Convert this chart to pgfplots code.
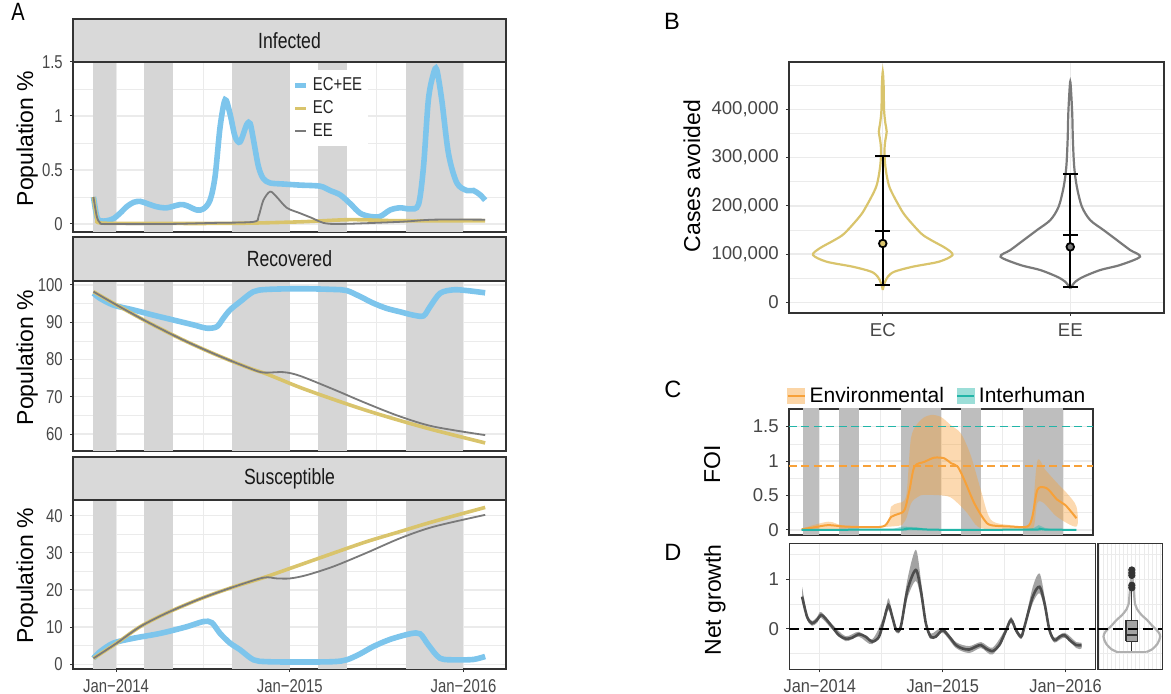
\documentclass[border=0pt]{standalone}
\usepackage{fontspec}
\setmainfont{Liberation Sans}
\newfontfamily\afont[FakeStretch=0.8]{Liberation Sans}
\newfontfamily\dfont[FakeStretch=0.88]{Liberation Sans}
\usepackage{pgfplots}
\pgfplotsset{compat=1.18}

\definecolor{cblue}{HTML}{7DC5EC}
\definecolor{cgold}{HTML}{D9C46C}
\definecolor{cgrey}{HTML}{7A7A7A}
\definecolor{band}{HTML}{D6D6D6}
\definecolor{bandC}{HTML}{BEBEBE}
\definecolor{strip}{HTML}{D9D9D9}
\definecolor{frame}{HTML}{333333}
\definecolor{gridc}{HTML}{EBEBEB}
\definecolor{corange}{HTML}{F7A139}
\definecolor{cteal}{HTML}{22B5A8}
\definecolor{dline}{HTML}{4D4D4D}
\definecolor{dband}{HTML}{A3A3A3}
\definecolor{vgrey}{HTML}{B0B0B0}

\newcommand\tA{\afont\fontsize{9.3}{11}\selectfont}
\newcommand\tN{\fontsize{9.3}{11}\selectfont}
\newcommand\tD{\dfont\fontsize{9.3}{11}\selectfont}
\newcommand\ttl{\fontsize{11.5}{13}\selectfont}
\newcommand\strp{\afont\fontsize{11}{13}\selectfont}
\newcommand\lgfont{\fontsize{10.5}{12}\selectfont}

% wet seasons, drawn behind the lines
\newcommand\bands[3]{%
\addplot[fill=#1, draw=none, forget plot] coordinates {(2013.867,#2) (2013.867,#3) (2014.0,#3) (2014.0,#2)};
\addplot[fill=#1, draw=none, forget plot] coordinates {(2014.163,#2) (2014.163,#3) (2014.33,#3) (2014.33,#2)};
\addplot[fill=#1, draw=none, forget plot] coordinates {(2014.667,#2) (2014.667,#3) (2015.0,#3) (2015.0,#2)};
\addplot[fill=#1, draw=none, forget plot] coordinates {(2015.165,#2) (2015.165,#3) (2015.328,#3) (2015.328,#2)};
\addplot[fill=#1, draw=none, forget plot] coordinates {(2015.667,#2) (2015.667,#3) (2016.0,#3) (2016.0,#2)};
}

\pgfplotsset{
  base/.style={
    scale only axis, anchor=south west,
    axis line style={frame, line width=0.7pt},
    tick align=outside, tick pos=left, major tick length=1.6pt, minor tick length=0pt,
    tick style={frame, line width=0.5pt},
    grid=both,
    major grid style={gridc, line width=0.7pt},
    minor grid style={gridc, line width=0.35pt},
    /pgf/number format/assume math mode=true,
    tick label style={text=black!72},
    scaled ticks=false,
  },
  dates/.style={xmin=2013.752, xmax=2016.245,
    xtick={2014,2015,2016}, minor xtick={2014.5,2015.5}},
}

\begin{document}
\begin{tikzpicture}
\path[use as bounding box] (0,0) rectangle (585.5pt,347pt);

% ---------------- A: Infected
\begin{axis}[base, dates, at={(36.5pt,231pt)}, width=216.5pt, height=85pt,
  ymin=-0.074, ymax=1.5,
  xticklabels={}, xtick style={draw=none},
  ytick={0,0.5,1,1.5}, yticklabels={0,0.5,1,1.5}, minor ytick={0.25,0.75,1.25},
  yticklabel style={font=\tA},
  ylabel={Population \%}, ylabel style={at={(axis description cs:-0.106,0.55)}, anchor=center, font=\ttl},
  legend style={at={(axis description cs:0.501,0.953)}, anchor=north west, fill=white, draw=none,
    font=\tA, text=black!85, inner xsep=1pt, inner ysep=1.5pt, row sep=-0.5pt},
  legend cell align=left,
  legend image code/.code={\draw[#1] (0pt,0pt) -- (5.5pt,0pt);},
]
\bands{band}{-1}{2}
\addplot[cblue, line width=2.8pt, smooth] coordinates {
(2013.870,0.25) (2013.889,0.07) (2013.908,0.03) (2013.946,0.03) (2013.985,0.05) (2014.023,0.10)
(2014.061,0.16) (2014.100,0.20) (2014.138,0.21) (2014.177,0.19) (2014.234,0.16) (2014.292,0.15)
(2014.369,0.18) (2014.407,0.17) (2014.464,0.13) (2014.503,0.14) (2014.541,0.22) (2014.570,0.44)
(2014.599,0.90) (2014.628,1.15) (2014.656,1.02) (2014.685,0.81) (2014.714,0.76) (2014.752,0.92)
(2014.772,0.93) (2014.791,0.78) (2014.820,0.53) (2014.848,0.42) (2014.887,0.38) (2014.964,0.37)
(2015.059,0.36) (2015.175,0.35) (2015.232,0.31) (2015.290,0.27) (2015.347,0.19) (2015.405,0.10)
(2015.463,0.07) (2015.520,0.07) (2015.578,0.13) (2015.635,0.15) (2015.693,0.14) (2015.741,0.18)
(2015.770,0.53) (2015.798,1.15) (2015.827,1.39) (2015.846,1.43) (2015.875,1.15) (2015.914,0.65)
(2015.962,0.38) (2016.019,0.31) (2016.058,0.31) (2016.096,0.27) (2016.125,0.22)};
\addlegendentry{EC+EE}
\addplot[cgold, line width=1.8pt, smooth] coordinates {
(2013.870,0.25) (2013.889,0.05) (2013.908,0.01) (2014.100,0.006) (2014.676,0.006)
(2015.059,0.02) (2015.347,0.04) (2015.635,0.03) (2016.125,0.03)};
\addlegendentry{EC}
\addplot[cgrey, line width=0.9pt, smooth] coordinates {
(2013.870,0.25) (2013.889,0.07) (2013.908,0.01) (2013.946,0) (2014.292,0) (2014.561,0.01)
(2014.791,0.02) (2014.820,0.07) (2014.848,0.22) (2014.887,0.30) (2014.925,0.25) (2014.983,0.15)
(2015.059,0.10) (2015.136,0.05) (2015.194,0.01) (2015.290,0) (2015.635,0.02) (2015.827,0.04)
(2016.125,0.04)};
\addlegendentry{EE}
\end{axis}

% ---------------- A: Recovered
\begin{axis}[base, dates, at={(36.5pt,121.5pt)}, width=216.5pt, height=85pt,
  ymin=55.44, ymax=101.07,
  xticklabels={}, xtick style={draw=none},
  ytick={60,70,80,90,100}, yticklabels={60,70,80,90,100}, minor ytick={65,75,85,95},
  yticklabel style={font=\tA},
  ylabel={Population \%}, ylabel style={at={(axis description cs:-0.106,0.55)}, anchor=center, font=\ttl},
]
\bands{band}{50}{110}
\addplot[cblue, line width=2.8pt, smooth] coordinates {
(2013.870,97.8) (2013.908,96.4) (2013.985,94.6) (2014.100,93.3) (2014.215,91.9) (2014.330,90.6)
(2014.445,89.3) (2014.522,88.4) (2014.580,88.8) (2014.618,91.1) (2014.656,93.3) (2014.714,95.5)
(2014.791,98.2) (2014.868,98.8) (2015.059,99.0) (2015.251,98.8) (2015.328,98.5) (2015.405,96.9)
(2015.482,95.1) (2015.559,93.7) (2015.635,92.8) (2015.712,91.9) (2015.770,91.7) (2015.808,94.2)
(2015.866,97.8) (2015.942,98.7) (2016.019,98.5) (2016.125,97.9)};
\addplot[cgold, line width=1.8pt, smooth] coordinates {
(2013.870,98.2) (2014.004,94.6) (2014.196,89.7) (2014.388,85.2) (2014.580,81.2) (2014.772,77.6)
(2014.868,76.1) (2015.059,72.5) (2015.251,69.3) (2015.443,66.3) (2015.635,63.6) (2015.827,61.1)
(2016.125,57.6)};
\addplot[cgrey, line width=0.9pt, smooth] coordinates {
(2013.870,98.2) (2014.004,94.6) (2014.196,89.7) (2014.388,85.2) (2014.580,81.2) (2014.772,77.6)
(2014.848,76.5) (2014.964,76.6) (2015.059,75.6) (2015.251,72.0) (2015.443,68.2) (2015.635,64.7)
(2015.827,62.0) (2016.125,59.7)};
\end{axis}

% ---------------- A: Susceptible
\begin{axis}[base, dates, at={(36.5pt,12.5pt)}, width=216.5pt, height=84.5pt,
  ymin=-1.27, ymax=44.2,
  xticklabels={Jan−2014,Jan−2015,Jan−2016}, xticklabel style={font=\tA},
  ytick={0,10,20,30,40}, yticklabels={0,10,20,30,40}, minor ytick={5,15,25,35},
  yticklabel style={font=\tA},
  ylabel={Population \%}, ylabel style={at={(axis description cs:-0.106,0.55)}, anchor=center, font=\ttl},
]
\bands{band}{-5}{50}
\addplot[cblue, line width=2.8pt, smooth] coordinates {
(2013.870,1.6) (2013.908,3.4) (2013.985,5.7) (2014.100,7.0) (2014.253,8.3) (2014.407,10.1)
(2014.503,11.5) (2014.551,11.2) (2014.599,8.3) (2014.656,5.7) (2014.714,3.9) (2014.791,1.2)
(2014.868,0.7) (2015.059,0.6) (2015.251,0.7) (2015.328,1.2) (2015.405,2.8) (2015.482,4.8)
(2015.578,6.7) (2015.693,8.2) (2015.750,8.2) (2015.798,5.2) (2015.866,1.6) (2015.962,1.2)
(2016.058,1.3) (2016.125,2.1)};
\addplot[cgold, line width=1.8pt, smooth] coordinates {
(2013.870,1.6) (2014.004,5.7) (2014.138,10.1) (2014.292,13.8) (2014.484,17.6) (2014.676,20.8)
(2014.848,23.3) (2015.002,25.8) (2015.251,29.9) (2015.443,33.0) (2015.635,35.7) (2015.827,38.4)
(2016.125,42.2)};
\addplot[cgrey, line width=0.9pt, smooth] coordinates {
(2013.870,1.6) (2014.004,5.7) (2014.138,10.1) (2014.292,13.8) (2014.484,17.6) (2014.676,20.8)
(2014.848,23.3) (2014.925,23.1) (2015.002,23.1) (2015.098,24.0) (2015.251,26.3) (2015.443,30.0)
(2015.635,33.9) (2015.827,37.0) (2016.125,40.2)};
\end{axis}

% facet strips
\draw[frame, line width=0.7pt, fill=strip] (36.5pt,337.5pt) rectangle (253pt,316pt);
\node[font=\strp, text=black!90] at (144.75pt,326.75pt) {Infected};
\draw[frame, line width=0.7pt, fill=strip] (36.5pt,228.5pt) rectangle (253pt,206.5pt);
\node[font=\strp, text=black!90] at (144.75pt,217.5pt) {Recovered};
\draw[frame, line width=0.7pt, fill=strip] (36.5pt,118.5pt) rectangle (253pt,97pt);
\node[font=\strp, text=black!90] at (144.75pt,107.75pt) {Susceptible};

% ---------------- B: violins
\begin{axis}[base, at={(394.5pt,190.5pt)}, width=187.5pt, height=125.5pt,
  xmin=0.5, xmax=2.5, ymin=-22000, ymax=498000,
  xtick={1,2}, xticklabels={EC,EE}, xticklabel style={font=\tN},
  ytick={0,100000,200000,300000,400000},
  yticklabels={0,{100,000},{200,000},{300,000},{400,000}},
  minor ytick={50000,150000,250000,350000,450000},
  yticklabel style={font=\tN},
  ylabel={Cases avoided}, ylabel style={at={(axis description cs:-0.259,0.546)}, anchor=center, font=\ttl},
]
\addplot[cgold, line width=1.1pt, smooth] coordinates {
(1,25600) (1.009,39400) (1.027,53200) (1.062,63600) (1.16,73900) (1.30,84300) (1.372,98100)
(1.337,111900) (1.257,129200) (1.204,143000) (1.124,177500) (1.089,198300) (1.035,239700)
(1.014,281200) (1.009,315700) (1.014,336400) (1.021,353700) (1.014,371000) (1.007,398600)
(1.005,447000) (1,478000)
(0.995,447000) (0.993,398600) (0.986,371000) (0.979,353700) (0.986,336400) (0.991,315700)
(0.986,281200) (0.965,239700) (0.911,198300) (0.876,177500) (0.796,143000) (0.743,129200)
(0.663,111900) (0.628,98100) (0.70,84300) (0.84,73900) (0.938,63600) (0.973,53200)
(0.991,39400) (1,25600)};
\addplot[cgrey, line width=1.1pt, smooth] coordinates {
(2,29000) (2.027,42800) (2.071,53200) (2.16,67000) (2.266,77400) (2.372,94600) (2.319,108500)
(2.248,129200) (2.177,149900) (2.106,170600) (2.062,198300) (2.035,239700) (2.021,281200)
(2.014,336400) (2.011,384800) (2.007,419300) (2,457300)
(1.993,419300) (1.989,384800) (1.986,336400) (1.979,281200) (1.965,239700) (1.938,198300)
(1.894,170600) (1.823,149900) (1.752,129200) (1.681,108500) (1.628,94600) (1.734,77400)
(1.84,67000) (1.929,53200) (1.973,42800) (2,29000)};
% intervals
\addplot[black, line width=1pt] coordinates {(1,36000) (1,303000)};
\addplot[black, line width=1pt] coordinates {(0.96,36000) (1.04,36000)};
\addplot[black, line width=1pt] coordinates {(0.96,148000) (1.04,148000)};
\addplot[black, line width=1pt] coordinates {(0.96,303000) (1.04,303000)};
\addplot[black, line width=1pt] coordinates {(2,31000) (2,265000)};
\addplot[black, line width=1pt] coordinates {(1.96,31000) (2.04,31000)};
\addplot[black, line width=1pt] coordinates {(1.96,140000) (2.04,140000)};
\addplot[black, line width=1pt] coordinates {(1.96,265000) (2.04,265000)};
\addplot[only marks, mark=*, mark size=1.9pt, mark options={fill=cgold, draw=black, line width=0.9pt}] coordinates {(1,122000)};
\addplot[only marks, mark=*, mark size=1.9pt, mark options={fill=cgrey, draw=black, line width=0.9pt}] coordinates {(2,115000)};
\end{axis}

% ---------------- C: force of infection
\begin{axis}[base, dates, at={(394.5pt,79.5pt)}, width=152pt, height=63pt,
  ymin=-0.073, ymax=1.757,
  xticklabels={}, xtick style={draw=none},
  ytick={0,0.5,1,1.5}, yticklabels={0,0.5,1,1.5}, minor ytick={0.25,0.75,1.25},
  yticklabel style={font=\tN},
  ylabel={FOI}, ylabel style={at={(axis description cs:-0.253,0.56)}, anchor=center, font=\ttl},
  legend columns=2,
  legend style={at={(axis description cs:0.49,1.103)}, anchor=center, draw=none, fill=none,
    font=\lgfont, /tikz/every even column/.append style={column sep=4pt}, inner sep=0pt},
]
\bands{bandC}{-1}{2}
\addplot[fill=corange, fill opacity=0.4, draw=none, smooth, forget plot] coordinates {
(2013.856,0.02) (2014.073,0.12) (2014.21,0.06) (2014.536,0.06) (2014.59,0.34) (2014.645,0.39)
(2014.713,0.50) (2014.754,1.35) (2014.835,1.60) (2014.917,1.67) (2014.999,1.64) (2015.080,1.52)
(2015.162,1.40) (2015.243,1.08) (2015.325,0.58) (2015.407,0.15) (2015.57,0.07) (2015.706,0.06)
(2015.747,0.2) (2015.788,1.0) (2015.855,0.87) (2015.951,0.68) (2016.033,0.53) (2016.109,0.34)
(2016.109,0.05) (2015.951,0.19) (2015.842,0.39) (2015.788,0.39) (2015.76,0.05) (2015.706,0.01)
(2015.407,0.01) (2015.298,0.05) (2015.216,0.24) (2015.135,0.39) (2015.053,0.49) (2014.863,0.51)
(2014.808,0.48) (2014.754,0.39) (2014.699,0.12) (2014.59,0.05) (2013.856,0.0)};
\addplot[fill=cteal, fill opacity=0.4, draw=none, forget plot] coordinates {
(2013.856,0.012) (2014.6,0.012) (2014.68,0.05) (2014.8,0.04) (2014.9,0.012) (2015.7,0.012)
(2015.76,0.03) (2015.8,0.07) (2015.85,0.03) (2015.9,0.012) (2016.109,0.012)
(2016.109,-0.005) (2013.856,-0.005)};
\addplot[corange, line width=1pt, smooth, forget plot] coordinates {
(2013.856,0.01) (2013.965,0.04) (2014.073,0.07) (2014.21,0.05) (2014.427,0.04) (2014.536,0.06)
(2014.59,0.19) (2014.645,0.23) (2014.699,0.29) (2014.74,0.58) (2014.781,0.92) (2014.863,0.99)
(2014.944,1.05) (2015.026,1.04) (2015.080,0.97) (2015.135,0.92) (2015.189,0.73) (2015.271,0.39)
(2015.352,0.15) (2015.407,0.07) (2015.57,0.05) (2015.706,0.05) (2015.747,0.19) (2015.788,0.58)
(2015.842,0.62) (2015.883,0.58) (2015.951,0.44) (2016.019,0.36) (2016.109,0.17)};
\addplot[cteal, line width=1pt, smooth, forget plot] coordinates {
(2013.856,0.003) (2014.65,0.005) (2014.72,0.02) (2014.85,0.01) (2015.0,0.003) (2015.76,0.005)
(2015.8,0.02) (2015.86,0.005) (2016.109,0.003)};
\addplot[cteal, line width=0.8pt, dash pattern=on 4pt off 2.2pt, forget plot] coordinates {(2013.752,1.5) (2016.245,1.5)};
\addplot[corange, line width=0.9pt, dash pattern=on 4pt off 2.2pt, forget plot] coordinates {(2013.752,0.93) (2016.245,0.93)};
\addlegendimage{legend image code/.code={\fill[corange!45] (0pt,-3.8pt) rectangle (8.5pt,3.8pt); \draw[corange, line width=1pt] (0pt,0pt) -- (8.5pt,0pt);}}
\addlegendentry{Environmental}
\addlegendimage{legend image code/.code={\fill[cteal!45] (0pt,-3.8pt) rectangle (8.5pt,3.8pt); \draw[cteal, line width=1pt] (0pt,0pt) -- (8.5pt,0pt);}}
\addlegendentry{Interhuman}
\end{axis}

% ---------------- D: net growth
\begin{axis}[base, dates, at={(394.65pt,12.35pt)}, width=153.2pt, height=63pt,
  ymin=-0.82, ymax=1.73,
  xticklabels={Jan−2014,Jan−2015,Jan−2016}, xticklabel style={font=\tD},
  ytick={0,1}, yticklabels={0,1}, minor ytick={-0.5,0.5,1.5},
  yticklabel style={font=\tN},
  ylabel={Net growth}, ylabel style={at={(axis description cs:-0.243,0.55)}, anchor=center, font=\ttl},
]
\addplot[fill=dband, draw=none, smooth] coordinates {
(2013.856,0.85) (2013.897,0.30) (2013.937,0.16) (2013.978,0.24) (2014.011,0.34) (2014.101,0.09)
(2014.21,-0.15) (2014.318,-0.06) (2014.427,-0.21) (2014.522,0.26) (2014.558,0.62) (2014.590,0.32)
(2014.623,0.02) (2014.659,0.12) (2014.713,1.0) (2014.781,1.6) (2014.822,1.0) (2014.863,0.17)
(2014.903,-0.10) (2014.999,0.02) (2015.108,-0.27) (2015.216,-0.35) (2015.312,-0.27) (2015.407,-0.38)
(2015.516,0.02) (2015.556,0.24) (2015.597,0.02) (2015.638,-0.11) (2015.665,0.09) (2015.733,0.85)
(2015.788,1.12) (2015.829,0.65) (2015.869,0.02) (2015.910,-0.18) (2015.992,-0.08) (2016.087,-0.27)
(2016.128,-0.28)
(2016.128,-0.40) (2016.087,-0.39) (2015.992,-0.18) (2015.910,-0.28) (2015.869,-0.08) (2015.829,0.40)
(2015.788,0.72) (2015.733,0.52) (2015.665,-0.01) (2015.638,-0.21) (2015.597,-0.08) (2015.556,0.12)
(2015.516,-0.08) (2015.407,-0.52) (2015.312,-0.39) (2015.216,-0.49) (2015.108,-0.39) (2014.999,-0.08)
(2014.903,-0.21) (2014.863,0.06) (2014.822,0.62) (2014.781,0.97) (2014.713,0.62) (2014.659,-0.02)
(2014.623,-0.08) (2014.590,0.17) (2014.558,0.38) (2014.522,0.12) (2014.427,-0.31) (2014.318,-0.16)
(2014.21,-0.25) (2014.101,-0.01) (2014.011,0.22) (2013.978,0.12) (2013.937,0.06) (2013.897,0.18)
(2013.856,0.55)};
\addplot[dline, line width=1.3pt, smooth] coordinates {
(2013.856,0.65) (2013.897,0.24) (2013.937,0.11) (2013.978,0.18) (2014.011,0.28) (2014.046,0.21)
(2014.101,0.04) (2014.155,-0.13) (2014.210,-0.20) (2014.264,-0.18) (2014.318,-0.11) (2014.373,-0.16)
(2014.427,-0.26) (2014.482,-0.16) (2014.522,0.18) (2014.558,0.48) (2014.590,0.24) (2014.623,-0.03)
(2014.659,0.04) (2014.713,0.78) (2014.781,1.19) (2014.822,0.78) (2014.863,0.11) (2014.903,-0.16)
(2014.944,-0.16) (2014.999,-0.03) (2015.053,-0.16) (2015.108,-0.33) (2015.162,-0.40) (2015.216,-0.42)
(2015.271,-0.36) (2015.312,-0.33) (2015.352,-0.40) (2015.407,-0.45) (2015.461,-0.33) (2015.516,-0.03)
(2015.556,0.18) (2015.597,-0.03) (2015.638,-0.16) (2015.665,0.04) (2015.733,0.65) (2015.788,0.85)
(2015.829,0.51) (2015.869,-0.03) (2015.910,-0.23) (2015.951,-0.16) (2015.992,-0.13) (2016.033,-0.23)
(2016.087,-0.33) (2016.128,-0.33)};
\addplot[black, line width=1pt, dash pattern=on 5pt off 2.5pt] coordinates {(2013.752,0) (2016.245,0)};
\end{axis}

% ---------------- D: distribution of net growth
\begin{axis}[base, at={(549pt,12.35pt)}, width=32.2pt, height=63pt,
  xmin=-1.05, xmax=0.95, ymin=-0.82, ymax=1.73,
  xtick={-1,-0.875,...,0.9}, xticklabels={}, xtick style={draw=none},
  ytick={0,1}, yticklabels={}, minor ytick={-0.5,0.5,1.5}, ytick style={draw=none},
  major grid style={gridc, line width=0.4pt},
]
\addplot[vgrey, line width=1.1pt, smooth] coordinates {
(0,1.2) (0.04,0.9) (0.07,0.7) (0.1,0.5) (0.16,0.4) (0.3,0.28) (0.47,0.18) (0.65,0.05) (0.82,-0.06)
(0.88,-0.16) (0.8,-0.3) (0.62,-0.42) (0.45,-0.47)};
\addplot[vgrey, line width=1.1pt, smooth] coordinates {
(0,1.2) (-0.04,0.9) (-0.07,0.7) (-0.1,0.5) (-0.16,0.4) (-0.3,0.28) (-0.47,0.18) (-0.65,0.05) (-0.82,-0.06)
(-0.88,-0.16) (-0.8,-0.3) (-0.62,-0.42) (-0.45,-0.47)};
\addplot[vgrey, line width=1.1pt] coordinates {(-0.45,-0.47) (0.45,-0.47)};
\addplot[frame, line width=0.6pt] coordinates {(0,-0.45) (0,0.78)};
\addplot[fill=dband, draw=frame, line width=0.6pt] coordinates {(-0.18,-0.25) (-0.18,0.17) (0.18,0.17) (0.18,-0.25) (-0.18,-0.25)};
\addplot[frame, line width=0.9pt] coordinates {(-0.18,-0.12) (0.18,-0.12)};
\addplot[only marks, mark=*, mark size=1.6pt, color=frame] coordinates {(0,0.83) (0,0.88) (0,1.08) (0,1.13) (0,1.19)};
\addplot[black, line width=1pt, dash pattern=on 5pt off 2.5pt] coordinates {(-1.05,0) (0.95,0)};
\end{axis}

% panel letters
\node[font=\afont\fontsize{12.5}{14}\selectfont] at (9pt,341pt) {A};
\node[font=\fontsize{11.8}{14}\selectfont] at (336pt,336.5pt) {B};
\node[font=\fontsize{11.8}{14}\selectfont] at (336.5pt,152.5pt) {C};
\node[font=\fontsize{11.8}{14}\selectfont] at (336.5pt,71pt) {D};
\end{tikzpicture}
\end{document}
